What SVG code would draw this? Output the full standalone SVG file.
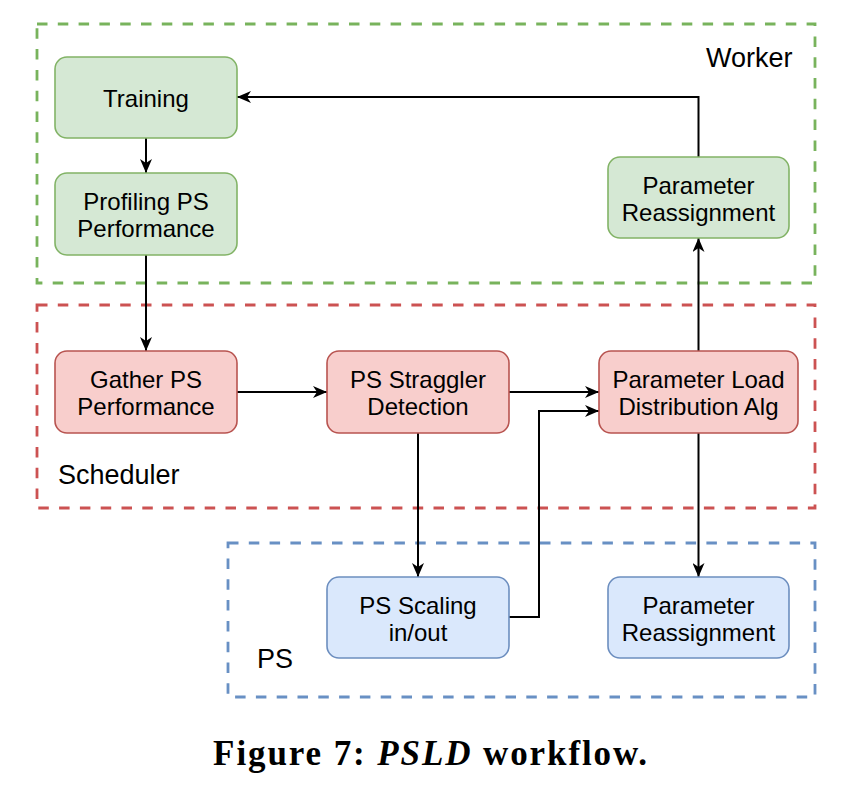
<svg xmlns="http://www.w3.org/2000/svg" width="860" height="806" viewBox="0 0 860 806">
<style>
text{font-family:"Liberation Sans",Arial,Helvetica,sans-serif;fill:#000}
.n{font-size:24px;text-anchor:middle}
.lbl{font-size:27px}
.g{fill:#d5e8d4;stroke:#82b366;stroke-width:1.6}
.r{fill:#f8cecc;stroke:#b85450;stroke-width:1.6}
.b{fill:#dae8fc;stroke:#6c8ebf;stroke-width:1.6}
.cg{fill:none;stroke:#78b35c;stroke-width:2.8;stroke-dasharray:10.5 10.3}
.cr{fill:none;stroke:#cc5252;stroke-width:2.8;stroke-dasharray:10.5 10.3}
.cb{fill:none;stroke:#6890c4;stroke-width:2.8;stroke-dasharray:10.5 10.3}
.e{fill:none;stroke:#000;stroke-width:2;marker-end:url(#ah)}
.cap{font-family:"Liberation Serif","Times New Roman",serif;font-weight:bold;font-size:35px;letter-spacing:1.9px;text-anchor:middle}
</style>
<defs>
<marker id="ah" viewBox="0 0 14 12" refX="14" refY="6" markerWidth="14" markerHeight="12" markerUnits="userSpaceOnUse" orient="auto">
<path d="M0,0 L14,6 L0,12 L4,6 Z" fill="#000"/>
</marker>
</defs>
<rect width="860" height="806" fill="#fff"/>
<g id="containers">
<g id="worker-group"><rect class="cg" x="37" y="24" width="778" height="259"/><text class="lbl" x="706" y="67">Worker</text></g>
<g id="scheduler-group"><rect class="cr" x="37" y="305" width="778" height="203"/><text class="lbl" x="58" y="484">Scheduler</text></g>
<g id="ps-group"><rect class="cb" x="228" y="543" width="587" height="154"/><text class="lbl" x="257" y="668">PS</text></g>
</g>
<g id="connectors">
<path class="e" d="M146,138 L146,173"/>
<path class="e" d="M146,255 L146,351"/>
<path class="e" d="M237,392 L327,392"/>
<path class="e" d="M509,392 L599,392"/>
<path class="e" d="M509,617 L539,617 L539,411 L599,411"/>
<path class="e" d="M418,433 L418,577"/>
<path class="e" d="M698.5,433 L698.5,577"/>
<path class="e" d="M698.5,351 L698.5,238"/>
<path class="e" d="M698.5,157 L698.5,97 L237,97"/>
</g>
<g id="training"><rect class="g" x="55" y="57" width="182" height="81" rx="12"/><text class="n" x="146" y="106.5">Training</text></g>
<g id="profiling"><rect class="g" x="55" y="173" width="182" height="82" rx="12"/><text class="n" x="146" y="210">Profiling PS</text><text class="n" x="146" y="237">Performance</text></g>
<g id="reassign-worker"><rect class="g" x="608" y="157" width="181" height="81" rx="12"/><text class="n" x="698.5" y="194">Parameter</text><text class="n" x="698.5" y="221">Reassignment</text></g>
<g id="gather"><rect class="r" x="55" y="351" width="182" height="82" rx="12"/><text class="n" x="146" y="388">Gather PS</text><text class="n" x="146" y="415">Performance</text></g>
<g id="straggler"><rect class="r" x="327" y="351" width="182" height="82" rx="12"/><text class="n" x="418" y="388">PS Straggler</text><text class="n" x="418" y="415">Detection</text></g>
<g id="pld"><rect class="r" x="599" y="351" width="199" height="82" rx="12"/><text class="n" x="698.5" y="388">Parameter Load</text><text class="n" x="698.5" y="415">Distribution Alg</text></g>
<g id="scaling"><rect class="b" x="327" y="577" width="182" height="81" rx="12"/><text class="n" x="418" y="613.5">PS Scaling</text><text class="n" x="418" y="640.5">in/out</text></g>
<g id="reassign-ps"><rect class="b" x="608" y="577" width="181" height="81" rx="12"/><text class="n" x="698.5" y="613.5">Parameter</text><text class="n" x="698.5" y="640.5">Reassignment</text></g>
<text class="cap" x="431" y="765">Figure 7: <tspan font-style="italic">PSLD</tspan> workflow.</text>
</svg>
